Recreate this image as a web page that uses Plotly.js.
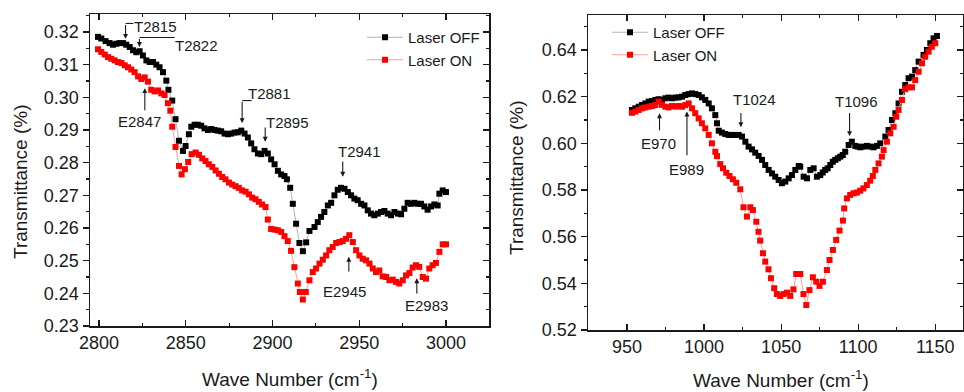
<!DOCTYPE html>
<html>
<head>
<meta charset="utf-8">
<script src="https://cdn.plot.ly/plotly-3.0.1.min.js"></script>
<style>
html,body{margin:0;padding:0;background:#fff;}
#chart{width:964px;height:392px;}
</style>
</head>
<body>
<div id="chart"></div>
<script>
// ---------- DATA ----------
const seriesNames = ["Laser OFF", "Laser ON"];

// Left panel (2800-3000 cm-1)
const leftOffX = [2799.4,2801.3,2803.8,2806.1,2808.1,2810.0,2811.9,2813.8,2815.7,2817.7,2819.6,2821.5,2823.4,2825.3,2827.3,2829.2,2831.1,2833.0,2834.9,2836.9,2838.8,2840.0,2842.2,2844.1,2846.1,2848.4,2849.9,2851.8,2853.2,2855.1,2857.0,2858.9,2860.8,2862.8,2864.7,2866.6,2868.5,2870.4,2872.4,2874.3,2876.2,2878.1,2880.0,2882.0,2883.9,2885.8,2887.7,2889.6,2891.6,2893.5,2895.4,2897.3,2899.2,2901.2,2903.1,2905.0,2906.9,2908.3,2910.2,2911.7,2913.6,2915.5,2917.5,2919.4,2921.3,2924.2,2926.1,2928.0,2929.9,2931.9,2933.8,2935.7,2937.6,2939.5,2941.5,2943.4,2945.3,2947.2,2949.1,2951.1,2953.0,2954.9,2956.8,2958.7,2960.7,2962.6,2964.5,2966.4,2968.3,2970.3,2972.2,2974.1,2976.0,2977.9,2979.8,2981.8,2983.7,2985.6,2987.5,2989.4,2991.4,2993.3,2995.2,2996.2,2998.1,3000.0];
const leftOffY = [0.3185,0.3180,0.3172,0.3166,0.3161,0.3164,0.3166,0.3166,0.3161,0.3154,0.3144,0.3138,0.3141,0.3128,0.3113,0.3108,0.3108,0.3100,0.3092,0.3077,0.3051,0.3023,0.2990,0.2933,0.2867,0.2836,0.2851,0.2887,0.2910,0.2916,0.2916,0.2913,0.2905,0.2900,0.2903,0.2900,0.2898,0.2896,0.2889,0.2887,0.2889,0.2892,0.2893,0.2898,0.2889,0.2877,0.2859,0.2841,0.2828,0.2826,0.2836,0.2828,0.2810,0.2795,0.2775,0.2764,0.2759,0.2749,0.2723,0.2674,0.2613,0.2554,0.2529,0.2556,0.2591,0.2603,0.2618,0.2634,0.2649,0.2669,0.2677,0.2700,0.2717,0.2723,0.2720,0.2710,0.2700,0.2690,0.2685,0.2674,0.2669,0.2654,0.2644,0.2639,0.2644,0.2649,0.2652,0.2644,0.2639,0.2649,0.2644,0.2642,0.2659,0.2677,0.2674,0.2677,0.2674,0.2674,0.2666,0.2656,0.2666,0.2672,0.2669,0.2705,0.2715,0.2710];

const leftOnX = [2799.4,2801.3,2803.3,2805.2,2807.1,2809.0,2810.9,2812.9,2814.8,2816.7,2818.6,2820.5,2822.5,2824.4,2826.3,2828.2,2830.1,2832.1,2834.0,2835.9,2837.8,2839.7,2841.1,2842.2,2844.1,2846.1,2847.6,2849.5,2851.4,2853.4,2855.7,2857.6,2859.5,2861.4,2863.3,2865.3,2867.2,2869.1,2871.0,2872.9,2874.9,2876.8,2878.7,2880.6,2882.5,2884.5,2886.4,2888.3,2890.2,2892.1,2894.0,2896.0,2897.3,2899.2,2901.2,2903.1,2905.0,2906.9,2908.8,2910.7,2912.6,2914.6,2915.8,2917.5,2919.2,2921.3,2923.2,2925.1,2927.1,2929.0,2930.9,2932.8,2934.7,2936.7,2938.6,2940.5,2942.4,2944.3,2946.3,2948.2,2950.1,2952.0,2953.9,2955.9,2957.8,2959.7,2961.6,2963.5,2965.5,2967.4,2969.3,2971.2,2973.1,2975.1,2977.0,2978.9,2980.8,2982.7,2984.6,2986.6,2988.5,2990.4,2992.3,2994.2,2996.2,2998.1,3000.0];
const leftOnY = [0.3147,0.3139,0.3131,0.3123,0.3118,0.3113,0.3108,0.3105,0.3098,0.3092,0.3085,0.3077,0.3064,0.3056,0.3061,0.3048,0.3023,0.3018,0.3021,0.3012,0.3007,0.2982,0.2959,0.2910,0.2848,0.2790,0.2764,0.2780,0.2802,0.2826,0.2831,0.2824,0.2813,0.2805,0.2795,0.2787,0.2776,0.2766,0.2756,0.2749,0.2739,0.2733,0.2728,0.2723,0.2715,0.2711,0.2703,0.2693,0.2688,0.2680,0.2672,0.2664,0.2626,0.2597,0.2595,0.2593,0.2588,0.2575,0.2560,0.2530,0.2480,0.2430,0.2404,0.2381,0.2404,0.2440,0.2465,0.2476,0.2491,0.2503,0.2516,0.2532,0.2542,0.2554,0.2557,0.2560,0.2567,0.2578,0.2557,0.2532,0.2516,0.2506,0.2501,0.2491,0.2476,0.2465,0.2470,0.2452,0.2450,0.2440,0.2442,0.2435,0.2430,0.2440,0.2455,0.2462,0.2479,0.2486,0.2481,0.2450,0.2445,0.2476,0.2486,0.2493,0.2527,0.2550,0.2550];

// Right panel (950-1150 cm-1)
const rightOffX = [953.2,955.4,957.6,959.7,961.9,964.1,966.2,968.4,970.5,972.7,974.9,977.0,979.2,981.4,983.5,985.7,987.8,990.0,992.2,994.3,996.5,998.6,1000.8,1003.0,1005.1,1007.3,1008.4,1009.5,1011.6,1013.8,1015.9,1018.1,1020.3,1022.4,1024.6,1026.8,1028.9,1031.1,1033.2,1035.4,1037.6,1039.7,1041.9,1044.1,1046.2,1048.4,1050.5,1052.7,1054.9,1057.0,1059.2,1061.4,1062.4,1064.6,1066.8,1068.9,1071.1,1073.2,1075.4,1077.0,1078.6,1080.2,1081.9,1083.5,1085.1,1086.8,1088.4,1090.0,1091.6,1093.8,1095.9,1098.1,1099.7,1101.4,1103.5,1105.7,1107.8,1110.0,1112.1,1114.3,1117.6,1119.7,1121.9,1124.1,1126.2,1128.4,1130.5,1132.7,1134.9,1137.0,1139.2,1142.4,1144.6,1146.8,1148.9,1151.1];
const rightOffY = [0.6143,0.6150,0.6157,0.6164,0.6171,0.6179,0.6181,0.6186,0.6189,0.6186,0.6193,0.6196,0.6193,0.6196,0.6197,0.6200,0.6207,0.6211,0.6214,0.6211,0.6207,0.6197,0.6186,0.6171,0.6150,0.6121,0.6086,0.6054,0.6046,0.6040,0.6036,0.6036,0.6036,0.6036,0.6029,0.6007,0.5986,0.5974,0.5960,0.5946,0.5929,0.5907,0.5886,0.5871,0.5857,0.5843,0.5829,0.5836,0.5850,0.5864,0.5886,0.5903,0.5900,0.5857,0.5850,0.5886,0.5893,0.5857,0.5864,0.5875,0.5886,0.5893,0.5907,0.5921,0.5929,0.5936,0.5943,0.5950,0.5964,0.5993,0.6007,0.5989,0.5986,0.5983,0.5986,0.5989,0.5986,0.5983,0.5989,0.6000,0.6029,0.6057,0.6100,0.6129,0.6171,0.6221,0.6250,0.6279,0.6286,0.6314,0.6350,0.6379,0.6400,0.6429,0.6450,0.6460];

const rightOnX = [953.2,955.4,957.6,959.7,961.9,964.1,966.2,968.4,970.5,972.7,974.9,977.0,979.2,981.4,983.5,985.7,987.8,990.0,992.2,994.3,996.5,998.6,1000.8,1003.0,1005.1,1007.3,1008.4,1010.5,1012.3,1014.4,1016.5,1018.7,1020.9,1023.5,1025.6,1027.8,1030.0,1031.7,1033.9,1035.3,1036.4,1038.2,1039.7,1041.8,1043.4,1045.5,1047.3,1049.4,1051.6,1053.8,1055.9,1058.0,1059.8,1062.4,1064.5,1066.3,1068.4,1070.6,1072.8,1074.9,1077.1,1079.7,1081.4,1083.6,1085.7,1087.9,1090.1,1090.9,1092.7,1094.8,1097.0,1099.2,1101.3,1103.4,1105.6,1107.8,1109.5,1111.1,1113.2,1115.4,1116.5,1118.6,1120.8,1123.0,1124.7,1126.2,1128.4,1130.5,1132.7,1134.9,1137.0,1139.2,1141.4,1143.5,1145.7,1147.8,1150.0];
const rightOnY = [0.6131,0.6136,0.6143,0.6150,0.6154,0.6157,0.6160,0.6164,0.6179,0.6165,0.6157,0.6154,0.6160,0.6157,0.6160,0.6157,0.6164,0.6171,0.6150,0.6129,0.6107,0.6086,0.6064,0.6036,0.6000,0.5964,0.5945,0.5911,0.5893,0.5874,0.5860,0.5846,0.5831,0.5803,0.5726,0.5686,0.5726,0.5714,0.5664,0.5621,0.5583,0.5529,0.5493,0.5460,0.5422,0.5379,0.5354,0.5346,0.5354,0.5360,0.5346,0.5374,0.5440,0.5440,0.5354,0.5307,0.5371,0.5426,0.5407,0.5389,0.5407,0.5457,0.5500,0.5543,0.5586,0.5626,0.5669,0.5721,0.5764,0.5779,0.5786,0.5789,0.5797,0.5807,0.5821,0.5840,0.5860,0.5886,0.5914,0.5943,0.5971,0.6007,0.6043,0.6071,0.6114,0.6143,0.6186,0.6232,0.6240,0.6240,0.6271,0.6307,0.6343,0.6371,0.6393,0.6414,0.6429];

// Tick labels
const leftXTicks = [2800, 2850, 2900, 2950, 3000];
const leftYTicks = [0.23, 0.24, 0.25, 0.26, 0.27, 0.28, 0.29, 0.30, 0.31, 0.32];
const rightXTicks = [950, 1000, 1050, 1100, 1150];
const rightYTicks = [0.52, 0.54, 0.56, 0.58, 0.60, 0.62, 0.64];

// Peak labels
const leftPeakLabels = ["T2815", "T2822", "E2847", "T2881", "T2895", "T2941", "E2945", "E2983"];
const rightPeakLabels = ["E970", "E989", "T1024", "T1096"];

const xTitle = "Wave Number (cm<sup>-1</sup>)";
const yTitle = "Transmittance (%)";

// ---------- STYLE ----------
const FONT = "Arial, 'Liberation Sans', Helvetica, sans-serif";
const AX = "#1a1a1a";
const W = 964, H = 392;

function px(v) { return v / W; }
function py(v) { return 1 - v / H; }

const leftDomX = [px(90), px(489)];
const leftDomY = [py(326), py(14)];
const rightDomX = [px(588), px(963)];
const rightDomY = [py(330), py(15)];

const leftXRange = [2794.8, 3024.8];
const leftYRange = [0.23, 0.3255];
const rightXRange = [924.7, 1168];
const rightYRange = [0.52, 0.655];

function baseAxis(extra) {
  return Object.assign({
    showline: true, linecolor: AX, linewidth: 1.5,
    showgrid: false, zeroline: false, fixedrange: true,
    tickcolor: AX, tickwidth: 1.2, ticklen: 6,
    tickfont: {family: FONT, size: 18, color: "#1a1a1a"},
    tickmode: "array"
  }, extra);
}

function markerTrace(x, y, name, color, lineColor, xa, ya, leg) {
  return {
    x: x, y: y, name: name, type: "scatter", mode: "lines+markers",
    xaxis: xa, yaxis: ya, legend: leg,
    line: {color: lineColor, width: 1},
    marker: {symbol: "square", size: 6, color: color},
    hoverinfo: "x+y"
  };
}

const traces = [
  markerTrace(leftOffX, leftOffY, seriesNames[0], "#000000", "#b5b5b5", "x", "y", "legend"),
  markerTrace(leftOnX, leftOnY, seriesNames[1], "#ff0000", "#ff9c9c", "x", "y", "legend"),
  markerTrace(rightOffX, rightOffY, seriesNames[0], "#000000", "#b5b5b5", "x2", "y2", "legend2"),
  markerTrace(rightOnX, rightOnY, seriesNames[1], "#ff0000", "#ff9c9c", "x2", "y2", "legend2"),
  {x: [], y: [], xaxis: "x3", yaxis: "y3", type: "scatter", mode: "markers", showlegend: false, hoverinfo: "skip"},
  {x: [], y: [], xaxis: "x4", yaxis: "y4", type: "scatter", mode: "markers", showlegend: false, hoverinfo: "skip"}
];

const fmt2 = v => v.toFixed(2);

const layout = {
  width: W, height: H,
  margin: {l: 0, r: 0, t: 0, b: 0},
  paper_bgcolor: "#ffffff", plot_bgcolor: "rgba(0,0,0,0)",
  font: {family: FONT, color: "#1a1a1a"},
  // left panel
  xaxis: baseAxis({domain: leftDomX, range: leftXRange, anchor: "y", side: "bottom", ticks: "inside",
    tickvals: leftXTicks, ticktext: leftXTicks.map(String),
    minor: {ticks: "inside", ticklen: 3, tick0: 2800, dtick: 25, tickcolor: AX, showgrid: false}}),
  yaxis: baseAxis({domain: leftDomY, range: leftYRange, anchor: "x", side: "left", ticks: "outside",
    tickvals: leftYTicks, ticktext: leftYTicks.map(fmt2),
    minor: {ticks: "outside", ticklen: 3, tick0: 0.23, dtick: 0.005, tickcolor: AX, showgrid: false}}),
  xaxis3: baseAxis({range: leftXRange, overlaying: "x", anchor: "y3", side: "top", ticks: "inside",
    tickvals: leftXTicks, showticklabels: false,
    minor: {ticks: "inside", ticklen: 3, tick0: 2800, dtick: 25, tickcolor: AX, showgrid: false}}),
  yaxis3: baseAxis({range: leftYRange, overlaying: "y", anchor: "x3", side: "right", ticks: "inside",
    tickvals: leftYTicks, showticklabels: false,
    minor: {ticks: "inside", ticklen: 3, tick0: 0.23, dtick: 0.005, tickcolor: AX, showgrid: false}}),
  // right panel
  xaxis2: baseAxis({domain: rightDomX, range: rightXRange, anchor: "y2", side: "bottom", ticks: "inside",
    tickvals: rightXTicks, ticktext: rightXTicks.map(String),
    minor: {ticks: "inside", ticklen: 3, tick0: 950, dtick: 25, tickcolor: AX, showgrid: false}}),
  yaxis2: baseAxis({domain: rightDomY, range: rightYRange, anchor: "x2", side: "left", ticks: "outside",
    tickvals: rightYTicks, ticktext: rightYTicks.map(fmt2),
    minor: {ticks: "outside", ticklen: 3, tick0: 0.52, dtick: 0.01, tickcolor: AX, showgrid: false}}),
  xaxis4: baseAxis({range: rightXRange, overlaying: "x2", anchor: "y4", side: "top", ticks: "inside",
    tickvals: rightXTicks, showticklabels: false,
    minor: {ticks: "inside", ticklen: 3, tick0: 950, dtick: 25, tickcolor: AX, showgrid: false}}),
  yaxis4: baseAxis({range: rightYRange, overlaying: "y2", anchor: "x4", side: "right", ticks: "inside",
    tickvals: rightYTicks, showticklabels: false,
    minor: {ticks: "inside", ticklen: 3, tick0: 0.52, dtick: 0.01, tickcolor: AX, showgrid: false}}),
  legend: {x: px(362), y: py(21), xanchor: "left", yanchor: "top", bgcolor: "rgba(0,0,0,0)",
    font: {family: FONT, size: 15, color: "#1a1a1a"}, tracegroupgap: 0, itemwidth: 36},
  legend2: {x: px(607), y: py(16), xanchor: "left", yanchor: "top", bgcolor: "rgba(0,0,0,0)",
    font: {family: FONT, size: 15, color: "#1a1a1a"}, tracegroupgap: 0, itemwidth: 36},
  showlegend: true,
  annotations: [],
  shapes: []
};

const annFont = {family: FONT, size: 15, color: "#1a1a1a"};

function label(text, x, y, xr, yr) {
  layout.annotations.push({text: text, x: x, y: y, xref: xr, yref: yr, showarrow: false,
    font: annFont, xanchor: "center", yanchor: "middle"});
}
function arrow(x, yHead, yTail, xr, yr) {
  layout.annotations.push({text: "", x: x, y: yHead, ax: x, ay: yTail, xref: xr, yref: yr,
    axref: xr, ayref: yr, showarrow: true, arrowhead: 2, arrowsize: 0.9, arrowwidth: 1.1,
    arrowcolor: "#1a1a1a", standoff: 0, startstandoff: 0});
}
function hline(x0, x1, y, xr, yr) {
  layout.shapes.push({type: "line", xref: xr, yref: yr, x0: x0, x1: x1, y0: y, y1: y,
    line: {color: "#1a1a1a", width: 1.1}});
}

// Left panel peak markers
label(leftPeakLabels[0], 2832.6, 0.3217, "x", "y"); arrow(2815.3, 0.3179, 0.3226, "x", "y"); hline(2815.3, 2819.8, 0.3226, "x", "y");
label(leftPeakLabels[1], 2856.0, 0.3160, "x", "y"); arrow(2823.3, 0.3154, 0.3183, "x", "y"); hline(2823.3, 2843.6, 0.3183, "x", "y");
label(leftPeakLabels[2], 2823.3, 0.2925, "x", "y"); arrow(2826.4, 0.3028, 0.2956, "x", "y");
label(leftPeakLabels[3], 2898.3, 0.3011, "x", "y"); arrow(2882.5, 0.2921, 0.2990, "x", "y"); hline(2882.5, 2888.0, 0.2990, "x", "y");
label(leftPeakLabels[4], 2908.8, 0.2922, "x", "y"); arrow(2895.8, 0.2864, 0.2912, "x", "y");
label(leftPeakLabels[5], 2950.1, 0.2833, "x", "y"); arrow(2940.5, 0.2757, 0.2808, "x", "y");
label(leftPeakLabels[6], 2941.5, 0.2407, "x", "y"); arrow(2944.0, 0.2512, 0.2462, "x", "y");
label(leftPeakLabels[7], 2988.6, 0.2362, "x", "y"); arrow(2983.2, 0.2446, 0.2395, "x", "y");

// Right panel peak markers
label(rightPeakLabels[0], 970.5, 0.6000, "x2", "y2"); arrow(971.1, 0.6129, 0.6050, "x2", "y2");
label(rightPeakLabels[1], 988.9, 0.5886, "x2", "y2"); arrow(988.9, 0.6136, 0.5943, "x2", "y2");
label(rightPeakLabels[2], 1032.6, 0.6187, "x2", "y2"); arrow(1023.9, 0.6069, 0.6136, "x2", "y2");
label(rightPeakLabels[3], 1099.2, 0.6178, "x2", "y2"); arrow(1094.4, 0.6031, 0.6136, "x2", "y2");

// Axis titles
const titleFont = {family: FONT, size: 19, color: "#1a1a1a"};
layout.annotations.push({text: yTitle, textangle: -90, x: px(20), y: py(182), xref: "paper", yref: "paper",
  showarrow: false, font: titleFont, xanchor: "center", yanchor: "middle"});
layout.annotations.push({text: yTitle, textangle: -90, x: px(516), y: py(178), xref: "paper", yref: "paper",
  showarrow: false, font: titleFont, xanchor: "center", yanchor: "middle"});
layout.annotations.push({text: xTitle, x: px(290), y: py(378), xref: "paper", yref: "paper",
  showarrow: false, font: titleFont, xanchor: "center", yanchor: "middle"});
layout.annotations.push({text: xTitle, x: px(781), y: py(379), xref: "paper", yref: "paper",
  showarrow: false, font: titleFont, xanchor: "center", yanchor: "middle"});

Plotly.newPlot("chart", traces, layout, {staticPlot: true, displayModeBar: false});
</script>
</body>
</html>
